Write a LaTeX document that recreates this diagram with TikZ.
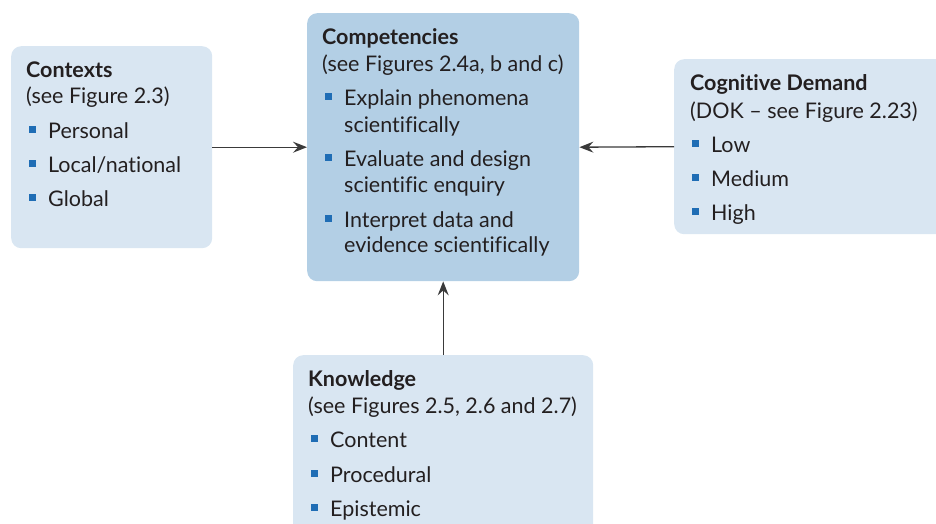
\documentclass[tikz,border=0pt]{standalone}
\usepackage{fontspec}
\setmainfont[Ligatures=NoCommon]{Lato}
\usetikzlibrary{arrows.meta}
\definecolor{lightbox}{HTML}{D9E6F2}
\definecolor{midbox}{HTML}{B3CFE5}
\definecolor{txt}{HTML}{231F20}
\definecolor{bul}{HTML}{1F6DB5}
\definecolor{arr}{HTML}{3A3A3A}
\newcommand{\bsq}{\textcolor{bul}{\rule[5.5pt]{7pt}{7pt}}\hspace{12.5pt}}
\begin{document}
\begin{tikzpicture}[x=1pt,y=-1pt,
  boxbase/.style={rounded corners=10pt, draw=none, inner sep=0pt, anchor=north west},
  lbox/.style={boxbase, fill=lightbox},
  mbox/.style={boxbase, fill=midbox},
  tx/.style={anchor=base west, inner sep=0pt, font=\fontsize{21.5}{24}\selectfont, text=txt},
  ttl/.style={tx, font=\fontsize{21.5}{24}\selectfont\bfseries},
  conn/.style={draw=arr, line width=1.3pt, -{Stealth[length=14pt,width=11pt,inset=5pt]}}]
\useasboundingbox (0,0) rectangle (936,524);
\clip (0,0) rectangle (936,524);
% boxes
\node[lbox, minimum width=201pt, minimum height=202pt] (ctx) at (11,46) {};
\node[mbox, minimum width=272pt, minimum height=268pt] (comp) at (307,13) {};
\node[lbox, minimum width=290pt, minimum height=175pt] (cog) at (674,59) {};
\node[lbox, minimum width=300pt, minimum height=190pt] (know) at (293,355) {};
% connectors
\draw[conn] (ctx.east) -- (comp.west);
\draw[conn] (cog.west) -- (comp.east);
\draw[conn] (know.north) -- (comp.south);
% Contexts
\node[ttl] (ctxt) at (26,78) {Contexts};
\node[tx] (ctxs) at (26,103) {(see Figure 2.3)};
\node[tx] (ctx1) at (28.5,138) {\bsq Personal};
\node[tx] (ctx2) at (28.5,172) {\bsq Local/national};
\node[tx] (ctx3) at (28.5,206) {\bsq Global};
% Competencies
\node[ttl] (compt) at (322,45) {Competencies};
\node[tx] (comps) at (322,72) {(see Figures 2.4a, b and c)};
\node[tx] (comp1) at (324.5,106) {\bsq Explain phenomena};
\node[tx] (comp1b) at (344,132) {scientifically};
\node[tx] (comp2) at (324.5,166) {\bsq Evaluate and design};
\node[tx] (comp2b) at (344,192) {scientific enquiry};
\node[tx] (comp3) at (324.5,227) {\bsq Interpret data and};
\node[tx] (comp3b) at (344,252) {evidence scientifically};
% Cognitive demand
\node[ttl] (cogt) at (690,91) {Cognitive Demand};
\node[tx] (cogs) at (690,118) {(DOK -- see Figure 2.23)};
\node[tx] (cog1) at (691.5,152) {\bsq Low};
\node[tx] (cog2) at (691.5,186) {\bsq Medium};
\node[tx] (cog3) at (691.5,220) {\bsq High};
% Knowledge
\node[ttl] (knowt) at (308,386) {Knowledge};
\node[tx] (knows) at (308,413) {(see Figures 2.5, 2.6 and 2.7)};
\node[tx] (know1) at (310.5,447) {\bsq Content};
\node[tx] (know2) at (310.5,482) {\bsq Procedural};
\node[tx] (know3) at (310.5,516) {\bsq Epistemic};
\end{tikzpicture}
\end{document}
